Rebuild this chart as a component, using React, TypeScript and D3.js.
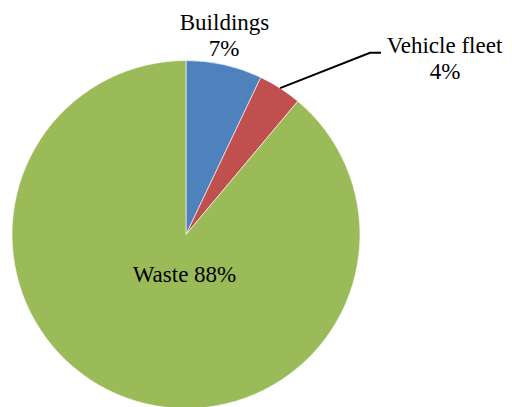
import React from "react";
import * as d3 from "d3";

const categories = ["Buildings", "Vehicle fleet", "Waste"];
const values = [7, 4, 88];
const colors = ["#4F81BD", "#C0504D", "#9BBB59"];

const W = 512;
const H = 407;
const cx = 186;
const cy = 234.5;
const R = 174;
const FONT = '"Liberation Serif", "Times New Roman", Times, "DejaVu Serif", serif';
const FS = 23;

export default function App() {
  const pie = d3.pie<number>().sort(null).value((d) => d);
  const arcs = pie(values);
  const arcGen = d3.arc<d3.PieArcDatum<number>>().innerRadius(0).outerRadius(R);

  const red = arcs[1];
  const mid = (red.startAngle + red.endAngle) / 2;
  const lx0 = Math.sin(mid) * R;
  const ly0 = -Math.cos(mid) * R;

  const ts: React.CSSProperties = { fontFamily: FONT, fontSize: FS };

  return (
    <svg
      width={W}
      height={H}
      style={{ position: "absolute", left: 0, top: 0, background: "#fff" }}
    >
      <g transform={`translate(${cx},${cy})`}>
        {arcs.map((a, i) => (
          <path key={i} d={arcGen(a) || ""} fill={colors[i]} stroke="#fff" strokeWidth={0.6} />
        ))}
        <polyline
          points={`${lx0},${ly0} ${370 - cx},${52.7 - cy} ${381 - cx},${52.7 - cy}`}
          fill="none"
          stroke="#000"
          strokeWidth={2}
        />
      </g>
      <g fill="#000" textAnchor="middle" style={ts}>
        <text x={224.5} y={29.5} style={ts}>{categories[0]}</text>
        <text x={224} y={55.5} style={ts}>{`${values[0]}%`}</text>
        <text x={444.5} y={53} style={ts}>{categories[1]}</text>
        <text x={445} y={79} style={ts}>{`${values[1]}%`}</text>
        <text x={184.5} y={281.5} style={ts}>{`${categories[2]} ${values[2]}%`}</text>
      </g>
    </svg>
  );
}
